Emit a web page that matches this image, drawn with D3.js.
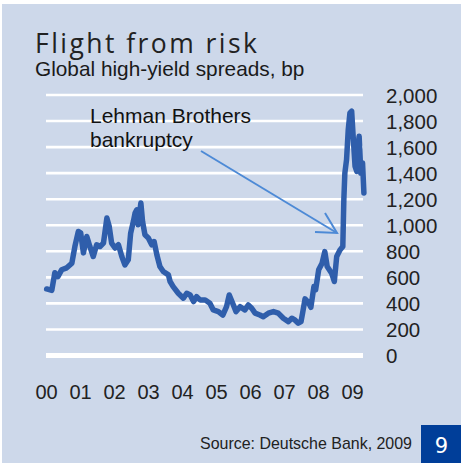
<!DOCTYPE html>
<html>
<head>
<meta charset="utf-8">
<script src="https://cdn.jsdelivr.net/npm/d3@7"></script>
<style>
  html, body { margin: 0; padding: 0; background: #ffffff; }
  svg { display: block; }
</style>
</head>
<body>
<svg id="chart" width="461" height="463"></svg>
<script>
// ---- data ----
const dates = [
  2000.02, 2000.17, 2000.26, 2000.35, 2000.46, 2000.61, 2000.76, 2000.85, 2000.95,
  2001.02, 2001.10, 2001.20, 2001.29, 2001.39, 2001.49, 2001.59, 2001.69, 2001.79, 2001.86, 2001.93,
  2002.03, 2002.13, 2002.23, 2002.32, 2002.42, 2002.49, 2002.57, 2002.62, 2002.67, 2002.71, 2002.79, 2002.84, 2002.91,
  2003.01, 2003.11, 2003.18, 2003.26, 2003.35, 2003.45, 2003.60, 2003.65, 2003.74, 2003.89,
  2004.04, 2004.14, 2004.24, 2004.34, 2004.43, 2004.53, 2004.68, 2004.82, 2004.92,
  2005.07, 2005.20, 2005.31, 2005.39, 2005.49, 2005.59, 2005.71, 2005.85, 2005.95,
  2006.05, 2006.15, 2006.29, 2006.39, 2006.54, 2006.69, 2006.83, 2006.98,
  2007.13, 2007.23, 2007.32, 2007.42, 2007.50, 2007.55, 2007.62, 2007.71, 2007.79, 2007.88, 2007.93,
  2008.02, 2008.12, 2008.20, 2008.27, 2008.40, 2008.48, 2008.55, 2008.65, 2008.73, 2008.76, 2008.79, 2008.84,
  2008.89, 2008.94, 2008.99, 2009.04, 2009.09, 2009.14, 2009.18, 2009.21, 2009.26, 2009.31, 2009.35
];
const spreads = [
  511, 500, 635, 606, 658, 673, 709, 837, 952,
  942, 788, 914, 837, 760, 850, 837, 863, 1055, 990, 863,
  825, 850, 760, 696, 735, 940, 1029, 1094, 1119, 1004, 1171, 1029, 927,
  902, 850, 875, 773, 683, 645, 619, 568, 529, 478,
  440, 478, 465, 414, 452, 427, 427, 401, 350,
  337, 310, 375, 465, 401, 337, 375, 350, 388,
  363, 325, 311, 298, 325, 337, 325, 286,
  260, 286, 273, 248, 260, 330, 435, 410, 370, 529, 504,
  658, 709, 798, 683, 632, 568, 760, 811, 837, 1196, 1401, 1504,
  1735, 1863, 1876, 1658, 1452, 1414, 1617, 1683, 1401, 1478, 1248
];
const yTicks = [0, 200, 400, 600, 800, 1000, 1200, 1400, 1600, 1800, 2000];
const xTicks = [2000, 2001, 2002, 2003, 2004, 2005, 2006, 2007, 2008, 2009];
const xTickLabels = ["00", "01", "02", "03", "04", "05", "06", "07", "08", "09"];
const titleText = "Flight from risk";
const subtitleText = "Global high-yield spreads, bp";
const annotationLines = ["Lehman Brothers", "bankruptcy"];
const sourceText = "Source: Deutsche Bank, 2009";
const pageNumber = "9";

// ---- drawing ----
const svg = d3.select("#chart");
const W = 461, H = 463;
const bg = "#cdd8ea";

svg.append("rect").attr("x", 2).attr("y", 4).attr("width", W - 2).attr("height", H - 4).attr("fill", bg);

const x = d3.scaleLinear().domain([2000, 2000 + 317 / 34]).range([46, 363]);
const y = d3.scaleLinear().domain([0, 2000]).range([355.5, 95]);

// gridlines
svg.append("g").selectAll("line").data(yTicks).join("line")
  .attr("x1", x.range()[0]).attr("x2", x.range()[1])
  .attr("y1", d => y(d)).attr("y2", d => y(d))
  .attr("stroke", "#ffffff")
  .attr("stroke-width", d => d === 0 ? 5 : 2.6);

// y axis labels (right side)
const yAxis = d3.axisRight(y).tickValues(yTicks).tickSize(0).tickPadding(0)
  .tickFormat(d3.format(","));
const gy = svg.append("g").attr("transform", "translate(386,0)").call(yAxis);
gy.select(".domain").remove();
gy.selectAll("text")
  .attr("x", 0).attr("dy", "0.36em")
  .attr("font-family", "Liberation Sans, Arial, sans-serif")
  .attr("font-size", 20.5).attr("fill", "#222222");

// x axis labels
const xAxis = d3.axisBottom(x).tickValues(xTicks).tickSize(0).tickPadding(0)
  .tickFormat((d, i) => xTickLabels[i]);
const gx = svg.append("g").attr("transform", "translate(0,399)").call(xAxis);
gx.select(".domain").remove();
gx.selectAll("text")
  .attr("y", 0).attr("dy", 0)
  .attr("font-family", "Liberation Sans, Arial, sans-serif")
  .attr("font-size", 20).attr("fill", "#222222");

// series line
const pts = dates.map((d, i) => [d, spreads[i]]);
const line = d3.line().x(d => x(d[0])).y(d => y(d[1])).curve(d3.curveLinear);
svg.append("path").datum(pts)
  .attr("d", line)
  .attr("fill", "none")
  .attr("stroke", "#2f5eab")
  .attr("stroke-width", 5.5)
  .attr("stroke-linejoin", "round")
  .attr("stroke-linecap", "round");

// annotation arrow
const arrowColor = "#4d8ad6";
const ax0 = 201, ay0 = 151, ax1 = 337, ay1 = 233;
svg.append("line").attr("x1", ax0).attr("y1", ay0).attr("x2", ax1).attr("y2", ay1)
  .attr("stroke", arrowColor).attr("stroke-width", 2);
svg.append("polyline")
  .attr("points", `325,213 ${ax1},${ay1} 315,232`)
  .attr("fill", "none").attr("stroke", arrowColor).attr("stroke-width", 2)
  .attr("stroke-linejoin", "miter");

// annotation text
svg.append("g").selectAll("text").data(annotationLines).join("text")
  .attr("x", 90).attr("y", (d, i) => 123.3 + i * 23.6)
  .attr("font-family", "Liberation Sans, Arial, sans-serif")
  .attr("font-size", 21).attr("fill", "#111111")
  .text(d => d);

// titles
svg.append("text").attr("x", 35).attr("y", 53)
  .attr("font-family", "Open Sans, DejaVu Sans, sans-serif")
  .attr("font-weight", 400)
  .attr("font-size", 26.5).attr("fill", "#222222")
  .attr("textLength", 222).attr("lengthAdjust", "spacing")
  .text(titleText);
svg.append("text").attr("x", 35).attr("y", 75.5)
  .attr("font-family", "Liberation Sans, Arial, sans-serif")
  .attr("font-size", 20.8).attr("fill", "#1a1a1a")
  .text(subtitleText);

// source
svg.append("text").attr("x", 412).attr("y", 449).attr("text-anchor", "end")
  .attr("font-family", "Liberation Sans, Arial, sans-serif")
  .attr("font-size", 17).attr("fill", "#222222")
  .attr("textLength", 212).attr("lengthAdjust", "spacingAndGlyphs")
  .text(sourceText);

// page number box
svg.append("rect").attr("x", 421).attr("y", 425).attr("width", 40).attr("height", 38).attr("fill", "#003e99");
svg.append("text").attr("x", 441.5).attr("y", 453).attr("text-anchor", "middle")
  .attr("font-family", "DejaVu Sans, Verdana, sans-serif")
  .attr("font-size", 21).attr("fill", "#ffffff")
  .text(pageNumber);
</script>
</body>
</html>
